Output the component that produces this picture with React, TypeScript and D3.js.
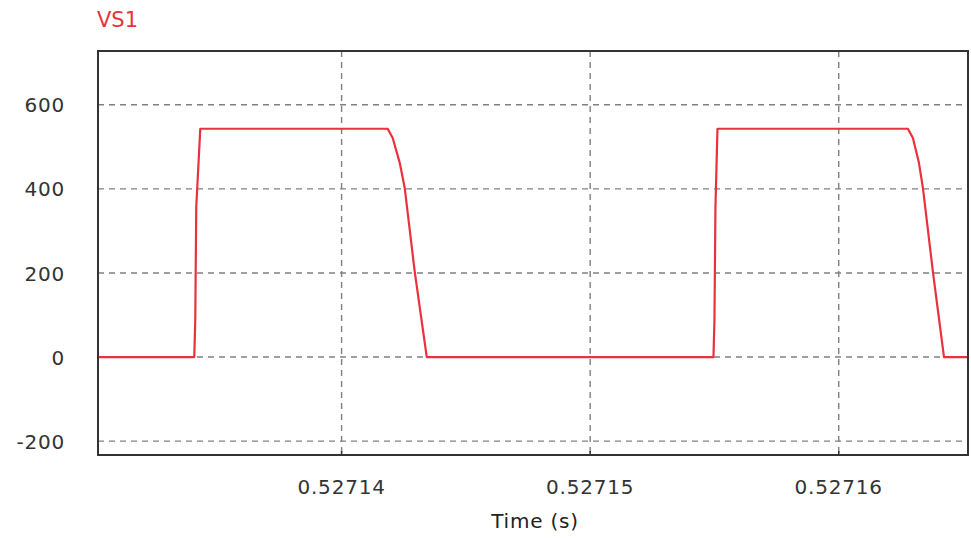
import { useEffect, useRef } from 'react';
import * as d3 from 'd3';

// Waveform samples: time (s) and voltage (V)
const times = [
  0.5271302, 0.527134073, 0.527134113, 0.527134153, 0.527134315,
  0.527141855, 0.527142056, 0.527142339, 0.52714254, 0.527142944, 0.527143427,
  0.52715496, 0.527155, 0.52715504, 0.527155121,
  0.527162782, 0.527162984, 0.527163226, 0.527163387, 0.52716379, 0.527164234,
  0.5271652,
];
const volts = [
  0, 0, 88, 357, 543,
  543, 521, 462, 402, 202, 0,
  0, 88, 357, 543,
  543, 521, 462, 402, 202, 0,
  0,
];

const xTicks = [0.52714, 0.52715, 0.52716];
const yTicks = [-200, 0, 200, 400, 600];
const xDomain = [0.5271302, 0.5271652];
const yDomain = [-233, 728];

const W = 971;
const H = 538;
const FONT = '"DejaVu Sans", Verdana, sans-serif';

const App = () => {
  const svgRef = useRef<SVGSVGElement>(null);

  useEffect(() => {
    const svg = d3.select(svgRef.current);
    svg.selectAll('*').remove();

    const margin = { top: 51, right: 3, bottom: 83, left: 98 };
    const cw = W - margin.left - margin.right;
    const ch = H - margin.top - margin.bottom;

    const g = svg.append('g').attr('transform', `translate(${margin.left},${margin.top})`);

    const x = d3.scaleLinear().domain(xDomain).range([0, cw]);
    const y = d3.scaleLinear().domain(yDomain).range([ch, 0]);

    // Grid
    g.selectAll('.hgrid')
      .data(yTicks)
      .enter()
      .append('line')
      .attr('x1', 0)
      .attr('x2', cw)
      .attr('y1', d => y(d))
      .attr('y2', d => y(d))
      .attr('stroke', '#808080')
      .attr('stroke-width', 1.4)
      .attr('stroke-dasharray', '6,5');

    g.selectAll('.vgrid')
      .data(xTicks)
      .enter()
      .append('line')
      .attr('x1', d => x(d))
      .attr('x2', d => x(d))
      .attr('y1', 0)
      .attr('y2', ch)
      .attr('stroke', '#808080')
      .attr('stroke-width', 1.4)
      .attr('stroke-dasharray', '6,5');

    // Signal
    const line = d3
      .line<number>()
      .x((_, i) => x(times[i]))
      .y(d => y(d));

    g.append('path')
      .datum(volts)
      .attr('d', line)
      .attr('fill', 'none')
      .attr('stroke', '#e8323e')
      .attr('stroke-width', 2.2)
      .attr('stroke-linejoin', 'round');

    // Frame
    g.append('rect')
      .attr('width', cw)
      .attr('height', ch)
      .attr('fill', 'none')
      .attr('stroke', '#333')
      .attr('stroke-width', 2);

    // Y labels
    g.selectAll('.ylab')
      .data(yTicks)
      .enter()
      .append('text')
      .attr('x', -33)
      .attr('y', d => y(d))
      .attr('dy', '0.38em')
      .attr('text-anchor', 'end')
      .style('font-family', FONT)
      .style('font-size', '20px')
      .style('letter-spacing', '0.8px')
      .style('fill', '#333')
      .text(d => d);

    // X labels
    g.selectAll('.xlab')
      .data(xTicks)
      .enter()
      .append('text')
      .attr('x', d => x(d))
      .attr('y', ch + 39)
      .attr('text-anchor', 'middle')
      .style('font-family', FONT)
      .style('font-size', '20px')
      .style('letter-spacing', '0.8px')
      .style('fill', '#333')
      .text(d => d3.format('.5f')(d));

    g.selectAll('.xtick')
      .data(xTicks)
      .enter()
      .append('line')
      .attr('x1', d => x(d))
      .attr('x2', d => x(d))
      .attr('y1', ch)
      .attr('y2', ch - 4)
      .attr('stroke', '#333')
      .attr('stroke-width', 1.5);

    svg.append('text')
      .attr('x', 535)
      .attr('y', 528)
      .attr('text-anchor', 'middle')
      .style('font-family', FONT)
      .style('font-size', '20px')
      .style('letter-spacing', '0.8px')
      .style('fill', '#222')
      .text('Time (s)');

    svg.append('text')
      .attr('x', 97)
      .attr('y', 27)
      .style('font-family', FONT)
      .style('font-size', '21px')
      .style('fill', '#e8323e')
      .text('VS1');
  }, []);

  return (
    <svg
      ref={svgRef}
      width={W}
      height={H}
      style={{ position: 'absolute', left: 0, top: 0, background: '#fff' }}
    />
  );
};

export default App;
